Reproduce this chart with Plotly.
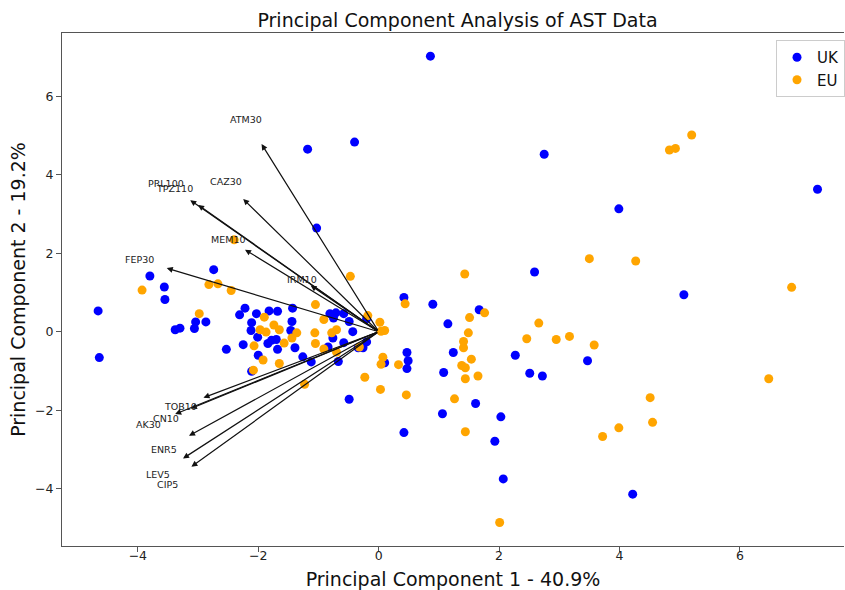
import plotly.graph_objects as go

# ---- data ----
uk_x = [-4.66, -4.64, 0.86, -0.40, -1.18, 2.75, 7.29, 3.99, -1.03, 2.59, 5.07, 0.42, 0.90, 1.15, 1.67,
        -2.74, -3.80, -3.56, -3.55, -3.38, -3.30, -3.06, -3.04, -2.87, -2.53, -2.22, -2.31, -2.25, -2.11,
        -2.12, -2.01, -2.03, -1.82, -1.68, -2.00, -2.11, -1.84, -1.78, -1.70, -1.68, -1.43, -1.44, -1.46,
        -1.39, -1.26, -1.12, -0.81, -0.71, -0.75, -0.58, -0.49, -0.43, -0.76, -0.84, -0.67, -0.58, -0.34,
        -0.26, -0.20, 0.10, -0.49, -0.20, 0.47, 0.49, 0.47, 1.24, 1.08, 1.61, 1.06, 2.03, 2.27, 2.51,
        2.72, 3.47, 0.42, 1.93, 2.07, 4.22]
uk_y = [0.53, -0.66, 7.02, 4.83, 4.65, 4.52, 3.63, 3.13, 2.64, 1.52, 0.94, 0.87, 0.70, 0.20, 0.56,
        1.58, 1.42, 1.14, 0.82, 0.05, 0.09, 0.08, 0.25, 0.25, -0.45, 0.60, 0.43, -0.33, 0.23,
        0.03, -0.14, 0.46, 0.53, 0.52, -0.60, -1.01, -0.30, -0.22, -0.20, -0.45, 0.60, 0.26, 0.03,
        -0.41, -0.64, -0.77, 0.46, 0.48, 0.35, 0.46, 0.26, 0.00, -0.16, -0.39, -0.76, -0.28, -0.41,
        -0.41, -0.26, -0.79, -1.72, 0.33, -0.53, -0.74, -0.94, -0.53, -1.04, -1.83, -2.09, -2.17, -0.60, -1.06,
        -1.13, -0.74, -2.57, -2.79, -3.75, -4.14]

eu_x = [-3.93, -2.98, -2.82, -2.67, -2.45, -2.40, -0.47, -1.05, -0.91, -1.90, -1.97, -1.87, -1.74, -1.65,
        -2.07, -1.92, -1.65, -2.08, -1.57, -1.44, -1.36, -1.06, -1.05, -0.91, -0.78, -0.70, -1.23, -0.70,
        -0.32, -0.18, 0.02, 0.10, 0.04, 0.07, 0.04, -0.23, 0.03, 0.33, 0.44, 1.76, 1.51, 1.49, 1.41, 1.41,
        1.54, 1.38, 1.44, 1.65, 1.44, 0.46, 1.26, 1.44, 2.66, 2.46, 2.95, 3.17, 3.58, 4.51, 4.55, 3.99,
        3.72, 6.48, 2.01, 1.43, 3.50, 4.27, 4.83, 4.93, 5.20, 6.86]
eu_y = [1.06, 0.46, 1.20, 1.22, 1.05, 2.34, 1.41, 0.69, 0.31, 0.37, 0.05, -0.01, 0.17, 0.05,
        -0.36, -0.72, -0.81, -0.98, -0.29, -0.16, -0.03, -0.03, -0.30, -0.44, -0.03, 0.05, -1.34, -0.52,
        -0.39, 0.41, 0.24, 0.03, 0.01, -0.65, -0.83, -1.16, -1.47, -0.84, 0.71, 0.48, 0.36, -0.03, -0.25, -0.41,
        -0.70, -0.86, -0.92, -1.13, -1.20, -1.61, -1.71, -2.55, 0.22, -0.18, -0.20, -0.12, -0.34, -1.68, -2.31, -2.45,
        -2.67, -1.20, -4.86, 1.47, 1.86, 1.80, 4.63, 4.67, 5.01, 1.13]

variables = ["ATM30", "CAZ30", "PRL100", "TPZ110", "MEM10", "FEP30", "IRM10",
             "TOB10", "CN10", "AK30", "ENR5", "LEV5", "CIP5"]
load_x = [-1.945, -2.25, -3.13, -3.00, -2.22, -3.52, -1.13,
          -2.91, -3.12, -3.38, -3.15, -3.25, -3.11]
load_y = [4.78, 3.38, 3.35, 3.23, 2.09, 1.62, 1.18,
          -1.68, -1.96, -2.10, -2.65, -3.23, -3.44]

label_scale = 1.13

fig = go.Figure()
fig.add_trace(go.Scatter(x=uk_x, y=uk_y, mode="markers", name="UK",
                         marker=dict(color="blue", size=9, line=dict(width=0))))
fig.add_trace(go.Scatter(x=eu_x, y=eu_y, mode="markers", name="EU",
                         marker=dict(color="orange", size=9, line=dict(width=0))))

annotations = []
for name, lx, ly in zip(variables, load_x, load_y):
    annotations.append(dict(x=lx, y=ly, ax=0, ay=0, xref="x", yref="y", axref="x", ayref="y",
                            text="", showarrow=True, arrowhead=2, arrowsize=1,
                            arrowwidth=1.2, arrowcolor="#111111", standoff=0, startstandoff=0))
for name, lx, ly in zip(variables, load_x, load_y):
    annotations.append(dict(x=lx * label_scale, y=ly * label_scale, xref="x", yref="y",
                            text=name, showarrow=False,
                            font=dict(family="DejaVu Sans", size=9.5, color="#222222"),
                            xanchor="center", yanchor="middle"))

axis_common = dict(showgrid=False, zeroline=False, showline=True, linecolor="#555555", linewidth=1,
                   ticks="outside", ticklen=5, tickwidth=1, tickcolor="#555555",
                   tickfont=dict(family="DejaVu Sans", size=12.5, color="#222222"))

fig.update_layout(
    width=845, height=590,
    margin=dict(l=62, r=0, t=33, b=42),
    paper_bgcolor="white", plot_bgcolor="white",
    font=dict(family="DejaVu Sans", color="#111111"),
    title=dict(text="Principal Component Analysis of AST Data", x=457.5 / 845, xanchor="center",
               y=1 - 20 / 590, yanchor="middle", font=dict(size=19, family="DejaVu Sans", color="#111111")),
    xaxis=dict(range=[-5.26, 7.73], tickvals=[-4, -2, 0, 2, 4, 6], mirror=True,
               ticklabelstandoff=-7,
               title=dict(text="Principal Component 1 - 40.9%", standoff=14,
                          font=dict(size=19, family="DejaVu Sans", color="#111111")),
               **axis_common),
    yaxis=dict(range=[-5.46, 7.61], tickvals=[-4, -2, 0, 2, 4, 6],
               title=dict(text="Principal Component 2 - 19.2%", standoff=4,
                          font=dict(size=19, family="DejaVu Sans", color="#111111")),
               **axis_common),
    legend=dict(x=(777 - 62) / 783, y=(548 - 40) / 515, xanchor="left", yanchor="top",
                bgcolor="white", bordercolor="#cccccc", borderwidth=1,
                font=dict(family="DejaVu Sans", size=15, color="#111111")),
    annotations=annotations,
    showlegend=True,
)

fig.write_html("out.html")
